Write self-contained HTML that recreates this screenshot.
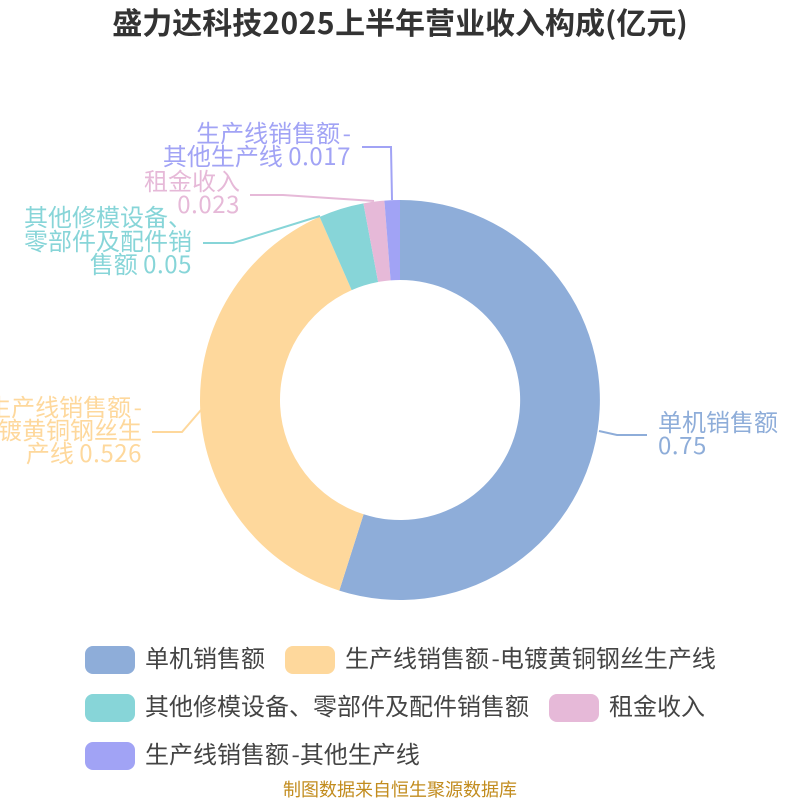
<!DOCTYPE html>
<html><head><meta charset="utf-8">
<style>
html,body{margin:0;padding:0;background:#fff;width:800px;height:800px;overflow:hidden}
svg{display:block}
text{font-family:"Noto Sans CJK SC","Noto Sans CJK JP",sans-serif}
.l{font-size:24px}
.e{text-anchor:end}
.d{letter-spacing:.55px}
</style></head><body>
<svg width="800" height="800" viewBox="0 0 800 800" xmlns="http://www.w3.org/2000/svg">
<text x="400" y="34" text-anchor="middle" font-size="30" font-weight="700" fill="#333">盛力达科技<tspan letter-spacing=".5">2025</tspan>上半年营业收入构成(亿元)</text>
<g>
<path d="M400 200A200 200 0 1 1 339.3 590.6L363.6 514.3A120 120 0 1 0 400 280Z" fill="#8eadd9"/>
<path d="M339.3 590.6A200 200 0 0 1 319.6 216.9L351.7 290.1A120 120 0 0 0 363.6 514.3Z" fill="#fed89c"/>
<path d="M319.6 216.9A200 200 0 0 1 363.4 203.4L378.1 282A120 120 0 0 0 351.7 290.1Z" fill="#87d5d8"/>
<path d="M363.4 203.4A200 200 0 0 1 384.4 200.6L390.6 280.4A120 120 0 0 0 378.1 282Z" fill="#e6b9d8"/>
<path d="M384.4 200.6A200 200 0 0 1 400 200L400 280A120 120 0 0 0 390.6 280.4Z" fill="#a1a3f5"/>
</g>
<g fill="none" stroke-width="2">
<path d="M599 431L617 435H647" stroke="#8eadd9"/>
<path d="M201 410L182 432H152" stroke="#fed89c"/>
<path d="M320 216L233 243H203" stroke="#87d5d8"/>
<path d="M374 201L283 195H250" stroke="#e6b9d8"/>
<path d="M392 200L391 147H362" stroke="#a1a3f5"/>
</g>
<g class="l">
<text x="658" y="431" fill="#8eadd9">单机销售额</text>
<text x="658" y="454" fill="#8eadd9" class="d">0.75</text>
<g fill="#fed89c">
<text class="e" x="142" y="416">生产线销售额<tspan dx="2.5">-</tspan></text>
<text class="e" x="142" y="439">电镀黄铜钢丝生</text>
<text class="e" x="142" y="462">产线 <tspan class="d">0.526</tspan></text>
</g>
<g fill="#87d5d8">
<text class="e" x="192" y="226">其他修模设备、</text>
<text class="e" x="192" y="250">零部件及配件销</text>
<text class="e" x="192" y="273">售额 <tspan class="d">0.05</tspan></text>
</g>
<g fill="#e6b9d8">
<text class="e" x="240" y="190">租金收入</text>
<text class="e" x="240" y="213"><tspan class="d">0.023</tspan></text>
</g>
<g fill="#a1a3f5">
<text class="e" x="351" y="142">生产线销售额<tspan dx="2.5">-</tspan></text>
<text class="e" x="351" y="165">其他生产线 <tspan class="d">0.017</tspan></text>
</g>
</g>
<rect x="85" y="646" width="50" height="28" rx="8" fill="#8eadd9"/>
<rect x="285" y="646" width="50" height="28" rx="8" fill="#fed89c"/>
<rect x="85" y="694" width="50" height="28" rx="8" fill="#87d5d8"/>
<rect x="549" y="694" width="50" height="28" rx="8" fill="#e6b9d8"/>
<rect x="85" y="742" width="50" height="28" rx="8" fill="#a1a3f5"/>
<g class="l" fill="#444">
<text x="145" y="667">单机销售额</text>
<text x="345" y="667">生产线销售额<tspan dx="2.5">-</tspan>电镀黄铜钢丝生产线</text>
<text x="145" y="715">其他修模设备、零部件及配件销售额</text>
<text x="609" y="715">租金收入</text>
<text x="145" y="763">生产线销售额<tspan dx="2.5">-</tspan>其他生产线</text>
</g>
<text x="400" y="796" text-anchor="middle" font-size="18" fill="#c28c1e">制图数据来自恒生聚源数据库</text>
</svg>
</body></html>
